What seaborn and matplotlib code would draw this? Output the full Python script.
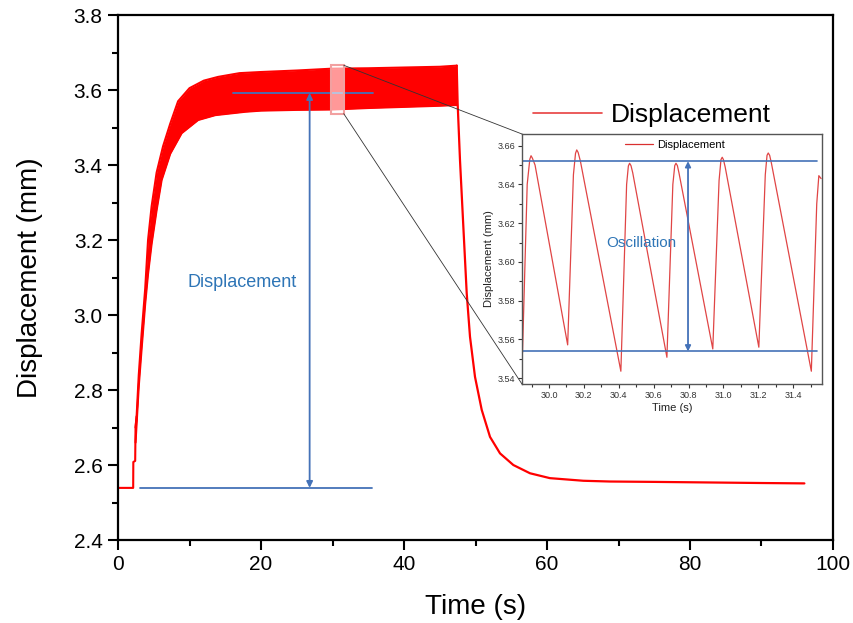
import numpy as np
import pandas as pd
import matplotlib
matplotlib.use("Agg")
import matplotlib.pyplot as plt
import seaborn as sns
from matplotlib.patches import Rectangle, ConnectionPatch
from matplotlib.lines import Line2D
from matplotlib.ticker import MultipleLocator, FormatStrFormatter

# ---------------- data ----------------
# baseline + initial step
start_t = [0.0, 2.12, 2.14, 2.40, 2.45, 2.60]
start_v = [2.539, 2.539, 2.608, 2.611, 2.70, 2.73]

# envelope of the oscillating band during loading
upper_t = [2.45, 2.6, 2.9, 3.3, 3.8, 4.2, 4.7, 5.4, 6.3, 7.3, 8.4, 10.0, 12.0, 14.0,
           17.0, 20.0, 25.0, 30.0, 35.0, 40.0, 45.0, 47.4]
upper_v = [2.70, 2.73, 2.84, 2.95, 3.07, 3.20, 3.29, 3.38, 3.45, 3.51, 3.57, 3.605, 3.625,
           3.635, 3.645, 3.648, 3.652, 3.657, 3.658, 3.660, 3.662, 3.665]
lower_t = [2.45, 2.6, 2.9, 3.3, 3.8, 4.2, 4.7, 5.4, 6.1, 7.3, 8.9, 11.2, 13.6, 17.8,
           20.0, 25.0, 30.0, 35.0, 40.0, 45.0, 47.4]
lower_v = [2.66, 2.71, 2.81, 2.91, 3.03, 3.11, 3.19, 3.28, 3.36, 3.43, 3.485, 3.52, 3.533,
           3.542, 3.545, 3.547, 3.548, 3.552, 3.555, 3.558, 3.560]

# unloading / relaxation
decay_t = [47.37, 47.5, 47.83, 48.3, 48.77, 49.23, 49.93, 50.87, 52.03, 53.43, 55.29,
           57.62, 60.4, 65.08, 68.8, 75.0, 80.0, 85.0, 90.0, 96.0]
decay_v = [3.665, 3.565, 3.413, 3.235, 3.058, 2.942, 2.835, 2.747, 2.675, 2.631, 2.600,
           2.578, 2.565, 2.558, 2.556, 2.555, 2.554, 2.553, 2.552, 2.551]

# zoomed window (inset)
zoom_t = [29.848, 29.875, 29.89, 29.897, 29.905, 29.92, 30.107, 30.14, 30.152, 30.159,
          30.167, 30.18, 30.412, 30.445, 30.455, 30.462, 30.47, 30.48, 30.676, 30.71,
          30.721, 30.728, 30.736, 30.745, 30.939, 30.975, 30.986, 30.993, 31.0, 31.01,
          31.203, 31.24, 31.25, 31.257, 31.265, 31.275, 31.504, 31.535, 31.547, 31.56]
zoom_v = [3.553, 3.640, 3.653, 3.6548, 3.6535, 3.650, 3.5572, 3.645, 3.656, 3.6578,
          3.6565, 3.652, 3.5436, 3.640, 3.6495, 3.6509, 3.6497, 3.646, 3.5508, 3.640,
          3.6497, 3.6509, 3.6497, 3.646, 3.5551, 3.642, 3.6528, 3.654, 3.6528, 3.649,
          3.556, 3.645, 3.655, 3.6562, 3.655, 3.651, 3.5436, 3.630, 3.6445, 3.643]

# annotation levels
disp_top, disp_bottom = 3.592, 2.539
osc_top, osc_bottom = 3.652, 3.5538

main_xticks = [0, 20, 40, 60, 80, 100]
main_yticks = [2.4, 2.6, 2.8, 3.0, 3.2, 3.4, 3.6, 3.8]
inset_xlim = (29.845, 31.565)
inset_ylim = (3.537, 3.666)

# ---------------- style ----------------
sns.set_style("ticks")
plt.rcParams["font.family"] = ["Liberation Sans", "DejaVu Sans"]
plt.rcParams["text.color"] = "black"
plt.rcParams["axes.labelcolor"] = "black"
plt.rcParams["xtick.color"] = "black"
plt.rcParams["ytick.color"] = "black"

RED = "#ff0000"
BLUE = "#4472b8"

fig = plt.figure(figsize=(8.54, 6.23), dpi=100)
ax = fig.add_axes([0.1382, 0.1332, 0.8372, 0.8427])

df_start = pd.DataFrame({"t": start_t, "v": start_v})
df_decay = pd.DataFrame({"t": decay_t, "v": decay_v})
sns.lineplot(data=df_start, x="t", y="v", ax=ax, color=RED, lw=1.5,
             estimator=None, sort=False)
sns.lineplot(data=df_decay, x="t", y="v", ax=ax, color=RED, lw=1.6,
             estimator=None, sort=False)

# band
grid_t = np.union1d(upper_t, lower_t)
up_i = np.interp(grid_t, upper_t, upper_v)
lo_i = np.interp(grid_t, lower_t, lower_v)
ax.fill_between(grid_t, lo_i, up_i, color=RED, lw=0)
sns.lineplot(x=upper_t, y=upper_v, ax=ax, color=RED, lw=1.5, estimator=None, sort=False)
sns.lineplot(x=lower_t, y=lower_v, ax=ax, color=RED, lw=1.5, estimator=None, sort=False)

ax.set_xlim(0, 100)
ax.set_ylim(2.4, 3.8)
ax.set_xticks(main_xticks)
ax.set_yticks(main_yticks)
ax.xaxis.set_minor_locator(MultipleLocator(10))
ax.yaxis.set_minor_locator(MultipleLocator(0.1))
ax.yaxis.set_major_formatter(FormatStrFormatter("%.1f"))
ax.tick_params(axis="both", which="major", direction="out", length=7, width=1.5,
               labelsize=15, pad=4, colors="black")
ax.tick_params(axis="both", which="minor", direction="out", length=4, width=1.5,
               colors="black")
for s in ax.spines.values():
    s.set_linewidth(1.6)
    s.set_color("black")
    s.set_visible(True)
ax.set_xlabel("Time (s)", fontsize=20, labelpad=14, color="black")
ax.set_ylabel("Displacement (mm)", fontsize=20, labelpad=22, color="black")

# displacement annotation
ax.plot([16.1, 35.6], [disp_top, disp_top], color=BLUE, lw=1.3)
ax.plot([3.1, 35.5], [disp_bottom, disp_bottom], color=BLUE, lw=1.3)
ax.annotate("", xy=(26.8, disp_top), xytext=(26.8, disp_bottom),
            arrowprops=dict(arrowstyle="<|-|>", color=BLUE, lw=1.3,
                            mutation_scale=9, shrinkA=0, shrinkB=0))
ax.text(17.4, 3.087, "Displacement", color="#2e75b6", fontsize=13,
        ha="center", va="center")

# zoom rectangle
rect = Rectangle((inset_xlim[0], inset_ylim[0]), inset_xlim[1] - inset_xlim[0],
                 inset_ylim[1] - inset_ylim[0], facecolor="white", alpha=0.6,
                 edgecolor="none", zorder=3)
ax.add_patch(rect)
rect2 = Rectangle((inset_xlim[0], inset_ylim[0]), inset_xlim[1] - inset_xlim[0],
                  inset_ylim[1] - inset_ylim[0], facecolor="none",
                  edgecolor="#f2a0a0", lw=1.5, zorder=4)
ax.add_patch(rect2)

# main legend
leg_handle = Line2D([0], [0], color="#e84040", lw=1.2)
fig.legend([leg_handle], ["Displacement"], loc="center left",
           bbox_to_anchor=(0.624, 0.815), frameon=False, fontsize=19,
           handlelength=2.6, handletextpad=0.35, borderpad=0, borderaxespad=0)

# ---------------- inset ----------------
axin = fig.add_axes([0.6112, 0.3836, 0.3513, 0.4013])
axin.set_facecolor("white")
df_zoom = pd.DataFrame({"t": zoom_t, "v": zoom_v})
sns.lineplot(data=df_zoom, x="t", y="v", ax=axin, color="#e04545", lw=0.9,
             estimator=None, sort=False)
axin.plot([inset_xlim[0], 31.534], [osc_top, osc_top], color=BLUE, lw=1.2)
axin.plot([inset_xlim[0], 31.534], [osc_bottom, osc_bottom], color=BLUE, lw=1.2)
axin.annotate("", xy=(30.797, osc_top), xytext=(30.797, osc_bottom),
              arrowprops=dict(arrowstyle="<|-|>", color=BLUE, lw=1.3,
                              mutation_scale=8, shrinkA=0, shrinkB=0))
axin.text(30.53, 3.610, "Oscillation", color="#2e75b6", fontsize=11,
          ha="center", va="center")
axin.set_xlim(*inset_xlim)
axin.set_ylim(*inset_ylim)
axin.xaxis.set_major_locator(MultipleLocator(0.2))
axin.xaxis.set_minor_locator(MultipleLocator(0.1))
axin.yaxis.set_major_locator(MultipleLocator(0.02))
axin.yaxis.set_minor_locator(MultipleLocator(0.01))
axin.xaxis.set_major_formatter(FormatStrFormatter("%.1f"))
axin.yaxis.set_major_formatter(FormatStrFormatter("%.2f"))
axin.tick_params(axis="both", which="major", direction="out", length=3, width=0.8,
                 labelsize=6.5, colors="#333333", pad=2)
axin.tick_params(axis="both", which="minor", direction="out", length=2, width=0.8,
                 colors="#333333")
for s in axin.spines.values():
    s.set_linewidth(1.0)
    s.set_color("#555555")
    s.set_visible(True)
axin.set_xlabel("Time (s)", fontsize=8, labelpad=2, color="#222222")
axin.set_ylabel("Displacement (mm)", fontsize=8, labelpad=2, color="#222222")

in_handle = Line2D([0], [0], color="#d93030", lw=0.9)
fig.legend([in_handle], ["Displacement"], loc="center left",
           bbox_to_anchor=(0.732, 0.767), frameon=False, fontsize=8,
           handlelength=2.5, handletextpad=0.35, borderpad=0, borderaxespad=0)

# connector lines
for yA, yB in [(inset_ylim[1], 1.0), (inset_ylim[0], 0.0)]:
    con = ConnectionPatch(xyA=(inset_xlim[1], yA), coordsA=ax.transData,
                          xyB=(0.0, yB), coordsB=axin.transAxes,
                          color="#333333", lw=0.6)
    fig.add_artist(con)

fig.savefig("out.png", dpi=100)
